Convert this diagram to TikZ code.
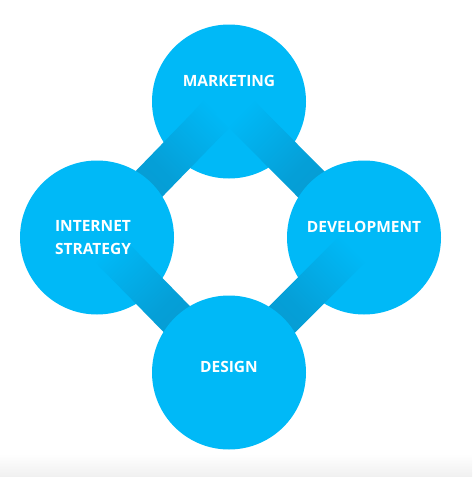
\documentclass[tikz,border=0pt]{standalone}
\usepackage{fontspec}
\usetikzlibrary{calc}
\setmainfont{Open Sans}
\definecolor{ringblue}{HTML}{00B9F7}
\definecolor{barblue}{HTML}{0797CD}
\pgfdeclarelayer{back}
\pgfdeclarelayer{barsup}
\pgfdeclarelayer{mid}
\pgfdeclarelayer{barsdown}
\pgfsetlayers{back,barsup,mid,barsdown,main}
% shaded band from #1 (light end) to #2, shading angle #3
\newcommand{\linkbar}[3]{%
    \shade[linkband, shading angle=#3]
        ($(#1.center)!18.5pt!90:(#2.center)$) -- ($(#2.center)!18.5pt!-90:(#1.center)$) --
        ($(#2.center)!18.5pt!90:(#1.center)$) -- ($(#1.center)!18.5pt!-90:(#2.center)$) -- cycle;}
\begin{document}
\begin{tikzpicture}[x=1pt,y=-1pt,
    ball/.style={circle, fill=ringblue, minimum size=154pt, inner sep=0pt},
    linkband/.style={top color=ringblue, bottom color=barblue, middle color=barblue!75!ringblue},
    lbl/.style={text=white, font=\bfseries\fontsize{15.5}{23}\selectfont, align=center}]

    \useasboundingbox (0,0) rectangle (472,477);
    \shade[top color=white, bottom color=black!6] (0,454) rectangle (472,477);

    \begin{pgfonlayer}{back}
        \node[ball] (mk) at (229,101.5) {};
    \end{pgfonlayer}

    \begin{pgfonlayer}{mid}
        \node[ball] (is) at (97,237.5) {};
        \node[ball] (dv) at (364,237.5) {};
    \end{pgfonlayer}

    \node[ball] (ds) at (229,372.5) {};

    \begin{pgfonlayer}{barsup}
        \linkbar{mk}{is}{-44}
        \linkbar{mk}{dv}{45}
    \end{pgfonlayer}

    \begin{pgfonlayer}{barsdown}
        \linkbar{is}{ds}{44}
        \linkbar{dv}{ds}{-45}
    \end{pgfonlayer}

    \node[lbl] (mk-t) at ([yshift=21pt]mk.center) {MARKETING};
    \node[lbl] (is-t) at ([xshift=-4pt]is.center) {INTERNET\\STRATEGY};
    \node[lbl] (dv-t) at ([yshift=11pt]dv.center) {DEVELOPMENT};
    \node[lbl] (ds-t) at ([yshift=6pt]ds.center) {DESIGN};

\end{tikzpicture}
\end{document}
